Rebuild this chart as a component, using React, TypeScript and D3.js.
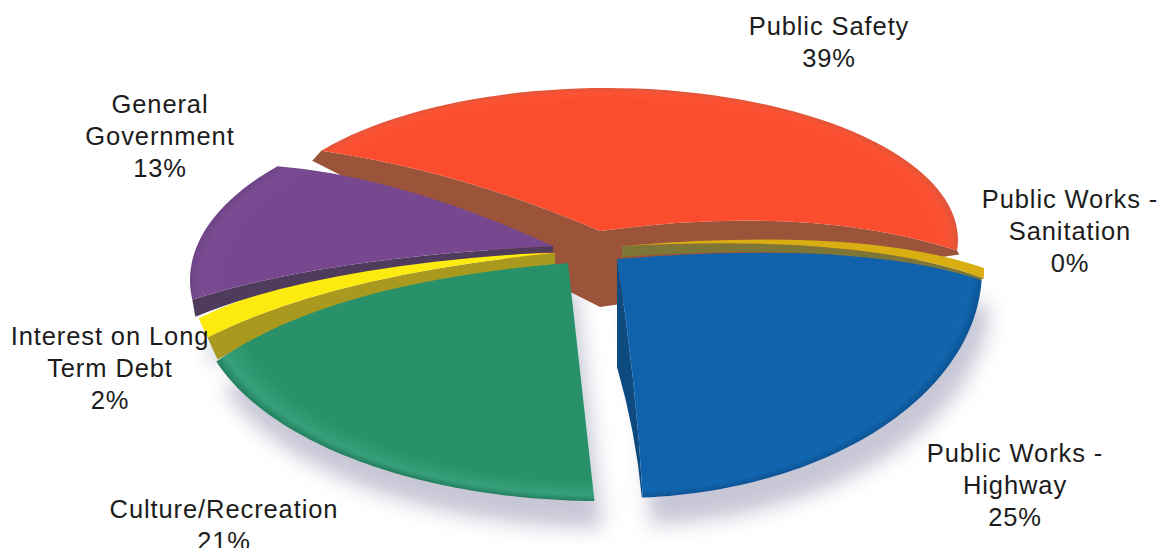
import React from "react";
import * as d3 from "d3";

// ---- data ----
const categories = [
  "Public Safety",
  "Public Works - Sanitation",
  "Public Works - Highway",
  "Culture/Recreation",
  "Interest on Long Term Debt",
  "General Government",
];
const shares = [39, 0.3, 25, 21, 2, 13];
const labelLines = [
  ["Public Safety"],
  ["Public Works -", "Sanitation"],
  ["Public Works -", "Highway"],
  ["Culture/Recreation"],
  ["Interest on Long", "Term Debt"],
  ["General", "Government"],
];

// ---- perspective layout of each wedge (styling, not data) ----
type Style = {
  top: string; rim: string; glow: string; wallC: string;
  cx: number; cy: number; rx: number; ry: number;
  ax: number; ay: number; da0: number; da1: number;
  c0: [number, number]; c1: [number, number];
  wall?: { edge: 0 | 1; apex: [number, number]; corner: [number, number]; mid: [number, number] };
  fan?: { left: [number, number]; apex: [number, number]; right: [number, number] };
  label: { x: number; y: number };
};
const styles: Style[] = [
  { top: "#fb4c2e", rim: "#e0553a", glow: "#fb5233", wallC: "#9b5339", cx: 606, cy: 240, rx: 352, ry: 152, ax: 600, ay: 231, da0: 0, da1: 8,
    c0: [0, -20], c1: [32, -38], fan: { left: [-9, 10], apex: [0, 76], right: [2, 4] }, label: { x: 829, y: 35 } },
  { top: "#d9ae12", rim: "#d9ae12", glow: "#d9ae12", wallC: "#7e7637", cx: 622, cy: 270, rx: 362, ry: 228, ax: 622, ay: 246, da0: 3.5, da1: 5,
    c0: [57, -31], c1: [57, -29], wall: { edge: 1, apex: [0, 11], corner: [-5, 3], mid: [-2, 7] }, label: { x: 1070, y: 208 } },
  { top: "#0f62ab", rim: "#0c5394", glow: "#1166af", wallC: "#0c4a80", cx: 620, cy: 270, rx: 362, ry: 228, ax: 617, ay: 259, da0: 5.5, da1: -0.4,
    c0: [62, -30], c1: [6, 0], wall: { edge: 1, apex: [0, 108], corner: [-1, 0], mid: [0, 54] }, label: { x: 1015, y: 462 } },
  { top: "#29916a", rim: "#237f5d", glow: "#36a07a", wallC: "#1f7a59", cx: 600, cy: 300, rx: 403, ry: 201, ax: 568, ay: 263, da0: 4, da1: 0,
    c0: [0, 0], c1: [-63, -30], label: { x: 224, y: 518 } },
  { top: "#fdeb10", rim: "#fdeb10", glow: "#fdeb10", wallC: "#a9991e", cx: 555, cy: 270, rx: 365, ry: 220, ax: 555, ay: 253, da0: 0, da1: -2,
    c0: [-51, -20], c1: [-55, -28], wall: { edge: 0, apex: [0, 12], corner: [10, 22], mid: [5, 17] }, label: { x: 110, y: 345 } },
  { top: "#77488f", rim: "#6f4487", glow: "#7a4b92", wallC: "#4f3c5c", cx: 555, cy: 280, rx: 365, ry: 175, ax: 553, ay: 246, da0: 4.2, da1: 4.5,
    c0: [-52, -15], c1: [-15, -30], wall: { edge: 0, apex: [0, 6], corner: [3, 17], mid: [0, 7] }, label: { x: 160, y: 113 } },
];
const drawOrder = [0, 1, 2, 4, 5, 3];
const startDeg = -54;
const lineGap = 32;

const pie = d3
  .pie<number>()
  .sort(null)
  .value((d) => d)
  .startAngle((startDeg * Math.PI) / 180)
  .endAngle(((startDeg + 360) * Math.PI) / 180);
const arcs = pie(shares);

const on = (s: Style, a: number): [number, number] => [
  s.cx + s.rx * Math.sin(a),
  s.cy - s.ry * Math.cos(a),
];
const rad = (d: number) => (d * Math.PI) / 180;

type Geo = { a0: number; a1: number; p0: [number, number]; p1: [number, number]; k0: [number, number]; k1: [number, number] };
function geometry(i: number): Geo {
  const s = styles[i];
  const a0 = arcs[i].startAngle + rad(s.da0);
  const a1 = arcs[i].endAngle + rad(s.da1);
  const p0 = on(s, a0);
  const p1 = on(s, a1);
  const k0: [number, number] = [(s.ax + p0[0]) / 2 + s.c0[0], (s.ay + p0[1]) / 2 + s.c0[1]];
  const k1: [number, number] = [(s.ax + p1[0]) / 2 + s.c1[0], (s.ay + p1[1]) / 2 + s.c1[1]];
  return { a0, a1, p0, p1, k0, k1 };
}
function topPath(i: number): string {
  const s = styles[i];
  const g = geometry(i);
  const p = d3.path();
  p.moveTo(s.ax, s.ay);
  p.quadraticCurveTo(g.k0[0], g.k0[1], g.p0[0], g.p0[1]);
  d3.range(1, 61).forEach((n) => {
    const q = on(s, g.a0 + ((g.a1 - g.a0) * n) / 60);
    p.lineTo(q[0], q[1]);
  });
  p.quadraticCurveTo(g.k1[0], g.k1[1], s.ax, s.ay);
  p.closePath();
  return p.toString();
}
function wallPath(i: number): string | null {
  const s = styles[i];
  const g = geometry(i);
  const p = d3.path();
  if (s.fan) {
    p.moveTo(g.p0[0] + s.fan.left[0], g.p0[1] + s.fan.left[1]);
    p.lineTo(s.ax + s.fan.apex[0], s.ay + s.fan.apex[1]);
    p.lineTo(g.p1[0] + s.fan.right[0], g.p1[1] + s.fan.right[1]);
    p.lineTo(g.p1[0], g.p1[1]);
    p.quadraticCurveTo(g.k1[0], g.k1[1], s.ax, s.ay);
    p.quadraticCurveTo(g.k0[0], g.k0[1], g.p0[0], g.p0[1]);
    p.closePath();
    return p.toString();
  }
  if (!s.wall) return null;
  const w = s.wall;
  const e = w.edge === 0 ? g.p0 : g.p1;
  const k = w.edge === 0 ? g.k0 : g.k1;
  p.moveTo(s.ax, s.ay);
  p.quadraticCurveTo(k[0], k[1], e[0], e[1]);
  p.lineTo(e[0] + w.corner[0], e[1] + w.corner[1]);
  p.quadraticCurveTo(k[0] + w.mid[0], k[1] + w.mid[1], s.ax + w.apex[0], s.ay + w.apex[1]);
  p.closePath();
  return p.toString();
}

export default function App() {
  return (
    <svg
      width={1160}
      height={548}
      viewBox="0 0 1160 548"
      style={{ position: "absolute", left: 0, top: 0, display: "block", background: "#fff" }}
      fontFamily="'Liberation Sans', Arial, sans-serif"
    >
      <defs>
        <filter id="soft" x="-20%" y="-20%" width="140%" height="140%">
          <feGaussianBlur stdDeviation="10" />
        </filter>
        {styles.map((s, i) => (
          <radialGradient
            key={i}
            id={`rim${i}`}
            gradientUnits="userSpaceOnUse"
            cx={0}
            cy={0}
            r={1}
            gradientTransform={`translate(${s.cx},${s.cy}) scale(${s.rx},${s.ry})`}
          >
            <stop offset="0" stopColor={s.top} />
            <stop offset="0.9" stopColor={s.top} />
            <stop offset="0.97" stopColor={s.glow} />
            <stop offset="1" stopColor={s.rim} />
          </radialGradient>
        ))}
      </defs>

      <g filter="url(#soft)" transform="translate(8,27)" fill="#c6c6d6">
        {[2, 3, 4].map((i) => (
          <path key={i} d={topPath(i)} />
        ))}
      </g>

      {drawOrder.map((i) => {
        const w = wallPath(i);
        return (
          <g key={categories[i]}>
            {w && <path d={w} fill={styles[i].wallC} />}
            <path d={topPath(i)} fill={`url(#rim${i})`} />
          </g>
        );
      })}

      <g fontSize={25.5} letterSpacing={0.9} fill="#1c1c1c" textAnchor="middle">
        {categories.map((c, i) => {
          const lines = [...labelLines[i], `${Math.round(shares[i])}%`];
          const s = styles[i];
          return (
            <text key={c}>
              {lines.map((t, j) => (
                <tspan key={j} x={s.label.x} y={s.label.y + j * lineGap}>
                  {t}
                </tspan>
              ))}
            </text>
          );
        })}
      </g>
    </svg>
  );
}
